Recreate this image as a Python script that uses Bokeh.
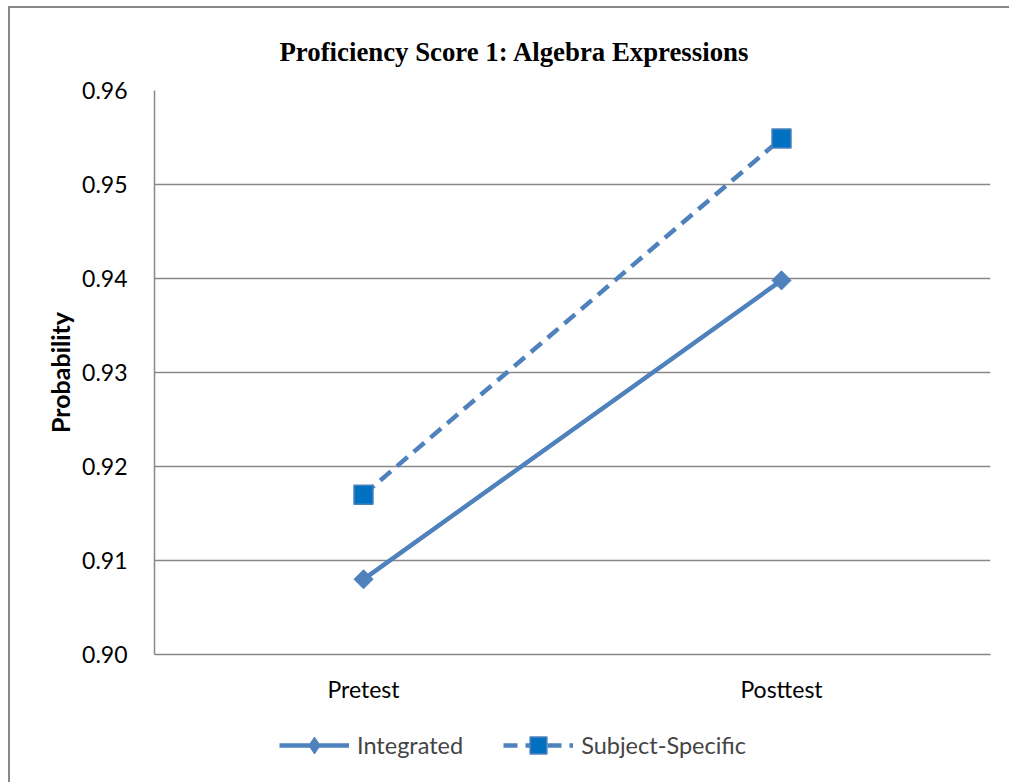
from bokeh.plotting import figure
from bokeh.layouts import column
from bokeh.models import (Legend, LegendItem, FixedTicker, NumeralTickFormatter,
                          Range1d, FactorRange)
from bokeh.embed import file_html
from bokeh.resources import INLINE
import math

categories = ["Pretest", "Posttest"]
integrated = [0.908, 0.9398]
subject_specific = [0.917, 0.9549]
y_ticks = [0.90, 0.91, 0.92, 0.93, 0.94, 0.95, 0.96]
title_text = "Proficiency Score 1: Algebra Expressions"

LINE = "#4F81BD"
SQ_FILL = "#0070C0"
GRID = "#888888"
FONT = "Lato"

p = figure(width=999, height=708, x_range=FactorRange(*categories, range_padding=0),
           y_range=Range1d(0.90, 0.96), output_backend="svg", toolbar_location=None,
           min_border_left=144, min_border_right=19, min_border_top=82, min_border_bottom=62,
           title=title_text)
p.title.text_font = "Liberation Serif"
p.title.text_font_style = "bold"
p.title.text_font_size = "26.8px"
p.title.text_color = "#000000"
p.title.align = "left"
p.title.offset = 125
p.title.standoff = 47

p.outline_line_color = None
p.xgrid.grid_line_color = None
p.ygrid.grid_line_color = GRID
p.ygrid.grid_line_width = 1.5
p.ygrid.ticker = FixedTicker(ticks=y_ticks)

p.yaxis.ticker = FixedTicker(ticks=y_ticks)
p.yaxis.formatter = NumeralTickFormatter(format="0.00")
for ax in (p.xaxis[0], p.yaxis[0]):
    ax.axis_line_color = GRID
    ax.axis_line_width = 1.5
    ax.major_tick_line_color = None
    ax.minor_tick_line_color = None
    ax.major_label_text_font = FONT
    ax.major_label_text_font_size = "23px"
    ax.major_label_text_color = "#000000"
p.yaxis.major_label_standoff = 21
p.xaxis.major_label_standoff = 14
p.yaxis.axis_label = "Probability"
p.yaxis.axis_label_text_font = FONT
p.yaxis.axis_label_text_font_style = "bold"
p.yaxis.axis_label_text_font_size = "25px"
p.yaxis.axis_label_text_color = "#000000"
p.yaxis.axis_label_standoff = 4


def draw(fig, diamond_marker, diamond_size, diamond_angle):
    a = fig.line(categories, integrated, line_color=LINE, line_width=4.5)
    b = fig.scatter(categories, integrated, marker=diamond_marker, size=diamond_size,
                    angle=diamond_angle, fill_color=LINE, line_color=LINE, line_width=1)
    c = fig.line(categories, subject_specific, line_color=LINE, line_width=4.5, line_dash="14 8")
    d = fig.scatter(categories, subject_specific, marker="square", size=19,
                    fill_color=SQ_FILL, line_color=LINE, line_width=1.5)
    return a, b, c, d


draw(p, "square", 13.5, math.pi / 4)

# legend strip below the chart (its own copies of the series lie outside its view)
lf = figure(width=999, height=66, x_range=FactorRange(*categories, range_padding=0),
            y_range=Range1d(0, 0.5), output_backend="svg", toolbar_location=None,
            min_border=0, x_axis_location=None, y_axis_location=None)
lf.outline_line_color = None
lf.grid.grid_line_color = None
a, b, c, d = draw(lf, "diamond", 19, 0)
legend = Legend(items=[LegendItem(label="Integrated", renderers=[a, b]),
                       LegendItem(label="Subject-Specific", renderers=[c, d])],
                orientation="horizontal", location=(125, 16),
                glyph_width=70, glyph_height=42, label_standoff=8, spacing=40,
                label_text_font=FONT, label_text_font_size="23.5px",
                border_line_color=None, background_fill_alpha=0, padding=0, margin=0)
lf.add_layout(legend, "center")

layout = column(p, lf, spacing=0)
layout.styles = {"border-left": "2px solid #888888", "border-top": "2px solid #888888",
                 "margin-left": "8px", "margin-top": "6px"}

open("out.html", "w").write(file_html(layout, INLINE))
